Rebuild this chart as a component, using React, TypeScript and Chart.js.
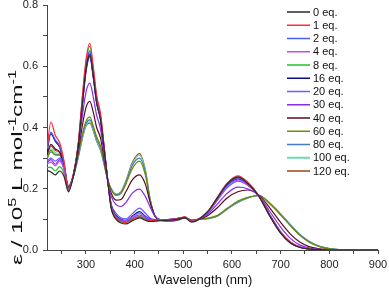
import React, { useEffect, useRef } from "react";
import { Chart, registerables } from "chart.js";

Chart.register(...registerables);

const wavelengths = [220, 228, 237, 246, 255, 264, 274, 284, 292, 300, 308, 315, 322, 330, 338, 345, 352, 362, 372, 382, 395, 410, 422, 432, 442, 455, 475, 490, 503, 517, 531, 550, 570, 590, 612, 632, 655, 678, 700, 720, 740, 760, 780, 800, 830, 870, 900];

const eq0 = [0.26, 0.255, 0.245, 0.258, 0.24, 0.19, 0.24, 0.335, 0.465, 0.59, 0.64, 0.57, 0.48, 0.425, 0.32, 0.222, 0.135, 0.1, 0.088, 0.085, 0.095, 0.105, 0.097, 0.093, 0.094, 0.096, 0.098, 0.101, 0.106, 0.091, 0.099, 0.125, 0.17, 0.215, 0.238, 0.218, 0.176, 0.11, 0.055, 0.023, 0.008, 0.003, 0.001, 0, 0, 0, 0];
const eq1 = [0.33, 0.418, 0.375, 0.35, 0.29, 0.195, 0.245, 0.345, 0.49, 0.62, 0.675, 0.6, 0.505, 0.445, 0.33, 0.225, 0.14, 0.105, 0.093, 0.09, 0.1, 0.108, 0.1, 0.096, 0.097, 0.098, 0.1, 0.103, 0.108, 0.093, 0.1, 0.125, 0.172, 0.218, 0.242, 0.222, 0.178, 0.112, 0.058, 0.025, 0.009, 0.003, 0.001, 0, 0, 0, 0];
const eq2 = [0.33, 0.385, 0.36, 0.34, 0.283, 0.2, 0.245, 0.34, 0.475, 0.6, 0.65, 0.58, 0.49, 0.432, 0.322, 0.224, 0.14, 0.108, 0.096, 0.093, 0.104, 0.115, 0.105, 0.098, 0.097, 0.098, 0.1, 0.103, 0.107, 0.093, 0.1, 0.124, 0.168, 0.212, 0.235, 0.216, 0.177, 0.11, 0.055, 0.023, 0.008, 0.003, 0.001, 0, 0, 0, 0];
const eq4 = [0.28, 0.287, 0.275, 0.29, 0.262, 0.198, 0.243, 0.338, 0.47, 0.595, 0.645, 0.575, 0.487, 0.43, 0.322, 0.224, 0.142, 0.11, 0.098, 0.096, 0.108, 0.12, 0.108, 0.099, 0.097, 0.098, 0.1, 0.103, 0.107, 0.093, 0.1, 0.122, 0.165, 0.207, 0.228, 0.212, 0.177, 0.112, 0.058, 0.025, 0.009, 0.003, 0.001, 0, 0, 0, 0];
const eq8 = [0.27, 0.27, 0.258, 0.272, 0.25, 0.195, 0.243, 0.34, 0.485, 0.61, 0.665, 0.59, 0.5, 0.44, 0.328, 0.225, 0.138, 0.104, 0.092, 0.089, 0.1, 0.11, 0.101, 0.097, 0.097, 0.098, 0.1, 0.103, 0.108, 0.093, 0.1, 0.125, 0.171, 0.217, 0.24, 0.22, 0.177, 0.111, 0.057, 0.024, 0.009, 0.003, 0.001, 0, 0, 0, 0];
const eq16 = [0.32, 0.38, 0.355, 0.335, 0.28, 0.2, 0.245, 0.338, 0.465, 0.585, 0.635, 0.567, 0.482, 0.428, 0.32, 0.224, 0.145, 0.113, 0.1, 0.097, 0.11, 0.125, 0.11, 0.1, 0.098, 0.098, 0.1, 0.103, 0.107, 0.093, 0.1, 0.123, 0.166, 0.21, 0.232, 0.215, 0.178, 0.112, 0.057, 0.024, 0.009, 0.003, 0.001, 0, 0, 0, 0];
const eq20 = [0.29, 0.3, 0.29, 0.3, 0.27, 0.2, 0.245, 0.338, 0.462, 0.58, 0.63, 0.563, 0.48, 0.426, 0.32, 0.224, 0.15, 0.12, 0.105, 0.102, 0.118, 0.137, 0.12, 0.104, 0.099, 0.098, 0.1, 0.103, 0.107, 0.093, 0.1, 0.121, 0.162, 0.203, 0.225, 0.212, 0.178, 0.115, 0.06, 0.026, 0.01, 0.004, 0.001, 0, 0, 0, 0];
const eq30 = [0.285, 0.295, 0.28, 0.295, 0.265, 0.2, 0.242, 0.33, 0.43, 0.515, 0.545, 0.5, 0.44, 0.395, 0.3, 0.225, 0.175, 0.148, 0.142, 0.155, 0.185, 0.199, 0.175, 0.14, 0.11, 0.098, 0.097, 0.1, 0.106, 0.095, 0.1, 0.117, 0.15, 0.185, 0.205, 0.2, 0.178, 0.125, 0.075, 0.038, 0.016, 0.006, 0.002, 0, 0, 0, 0];
const eq40 = [0.31, 0.345, 0.33, 0.32, 0.275, 0.205, 0.24, 0.32, 0.4, 0.465, 0.485, 0.45, 0.4, 0.365, 0.29, 0.226, 0.185, 0.163, 0.165, 0.19, 0.228, 0.245, 0.215, 0.155, 0.11, 0.097, 0.096, 0.1, 0.106, 0.096, 0.1, 0.112, 0.138, 0.17, 0.19, 0.196, 0.18, 0.137, 0.09, 0.052, 0.025, 0.01, 0.004, 0.001, 0, 0, 0];
const eq60 = [0.295, 0.325, 0.31, 0.31, 0.27, 0.207, 0.24, 0.31, 0.375, 0.42, 0.435, 0.405, 0.37, 0.34, 0.28, 0.227, 0.197, 0.178, 0.185, 0.215, 0.265, 0.29, 0.245, 0.16, 0.11, 0.097, 0.095, 0.099, 0.105, 0.097, 0.1, 0.104, 0.113, 0.136, 0.16, 0.172, 0.178, 0.15, 0.114, 0.079, 0.047, 0.024, 0.011, 0.004, 0.001, 0, 0];
const eq80 = [0.3, 0.32, 0.312, 0.31, 0.268, 0.205, 0.24, 0.305, 0.368, 0.412, 0.425, 0.398, 0.362, 0.333, 0.277, 0.227, 0.198, 0.18, 0.187, 0.22, 0.275, 0.3, 0.255, 0.163, 0.112, 0.098, 0.095, 0.098, 0.105, 0.098, 0.1, 0.103, 0.111, 0.134, 0.157, 0.17, 0.178, 0.152, 0.116, 0.081, 0.049, 0.026, 0.012, 0.005, 0.001, 0, 0];
const eq100 = [0.3, 0.33, 0.318, 0.312, 0.27, 0.208, 0.24, 0.302, 0.363, 0.407, 0.418, 0.392, 0.357, 0.328, 0.275, 0.228, 0.2, 0.181, 0.189, 0.223, 0.28, 0.31, 0.26, 0.165, 0.112, 0.098, 0.095, 0.098, 0.105, 0.098, 0.1, 0.102, 0.11, 0.133, 0.155, 0.169, 0.178, 0.153, 0.117, 0.082, 0.05, 0.027, 0.012, 0.005, 0.001, 0, 0];
const eq120 = [0.305, 0.34, 0.325, 0.318, 0.275, 0.21, 0.24, 0.3, 0.36, 0.405, 0.415, 0.39, 0.355, 0.325, 0.275, 0.228, 0.2, 0.182, 0.19, 0.225, 0.285, 0.315, 0.262, 0.165, 0.11, 0.097, 0.095, 0.098, 0.105, 0.098, 0.1, 0.102, 0.11, 0.133, 0.155, 0.17, 0.178, 0.153, 0.118, 0.083, 0.05, 0.027, 0.012, 0.005, 0.001, 0, 0];

const seriesLabels = ["0 eq.", "1 eq.", "2 eq.", "4 eq.", "8 eq.", "16 eq.", "20 eq.", "30 eq.", "40 eq.", "60 eq.", "80 eq.", "100 eq.", "120 eq."];
const seriesValues = [eq0, eq1, eq2, eq4, eq8, eq16, eq20, eq30, eq40, eq60, eq80, eq100, eq120];
const seriesColors = ["#2a2a2a", "#ff2a3c", "#4a62f0", "#c24cf0", "#22c02a", "#0a0a8a", "#6a5cff", "#8a2be8", "#5c0a1e", "#6e9000", "#4a78c8", "#66ddaa", "#a0421a"];

const xTicks = [250, 300, 350, 400, 450, 500, 550, 600, 650, 700, 750, 800, 850, 900];
const xLabels = [300, 400, 500, 600, 700, 800, 900];
const yTicks = [0, 0.1, 0.2, 0.3, 0.4, 0.5, 0.6, 0.7, 0.8];
const yLabels = [0, 0.2, 0.4, 0.6, 0.8];

const FONT = '"Liberation Sans", Arial, sans-serif';

const overlayPlugin = {
  id: "overlay",
  afterDraw(chart: any) {
    const ctx = chart.ctx as CanvasRenderingContext2D;
    const area = chart.chartArea;
    ctx.save();
    // legend
    ctx.font = `11px ${FONT}`;
    ctx.textBaseline = "middle";
    ctx.textAlign = "left";
    chart.data.datasets.forEach((ds: any, i: number) => {
      const y = 12 + i * 13.25;
      ctx.strokeStyle = ds.borderColor;
      ctx.lineWidth = i === 11 ? 2 : 1.5;
      ctx.beginPath();
      ctx.moveTo(287, y);
      ctx.lineTo(310, y);
      ctx.stroke();
      ctx.fillStyle = "#111";
      ctx.fillText(ds.label, 313, y + 0.5);
    });
    // x title
    ctx.font = `13px ${FONT}`;
    ctx.textAlign = "center";
    ctx.textBaseline = "alphabetic";
    ctx.fillStyle = "#111";
    ctx.fillText("Wavelength (nm)", 203, 284);
    // y title
    ctx.translate(22, 265);
    ctx.rotate(-Math.PI / 2);
    const main = 15;
    const sup = 10;
    const parts: [string, boolean][] = [
      ["ε / 10", false],
      ["5", true],
      [" L mol", false],
      ["-1", true],
      ["cm", false],
      ["-1", true],
    ];
    let total = 0;
    parts.forEach(([t, s]) => {
      ctx.font = `${s ? sup : main}px ${FONT}`;
      total += ctx.measureText(t).width;
    });
    const sc = 195 / total;
    ctx.scale(sc, 1);
    ctx.textAlign = "left";
    let x = 0;
    parts.forEach(([t, s]) => {
      ctx.font = `${s ? sup : main}px ${FONT}`;
      ctx.fillText(t, x, s ? -6 : 0);
      x += ctx.measureText(t).width;
    });
    ctx.restore();
  },
};

export default function App() {
  const ref = useRef<HTMLCanvasElement>(null);
  useEffect(() => {
    if (!ref.current) return;
    const chart = new Chart(ref.current, {
      type: "line",
      data: {
        datasets: seriesLabels.map((label, i) => ({
          label,
          data: wavelengths.map((w, j) => ({ x: w, y: seriesValues[i][j] })),
          borderColor: seriesColors[i],
          backgroundColor: seriesColors[i],
          borderWidth: 1.2,
          pointRadius: 0,
          tension: 0.4,
          cubicInterpolationMode: "monotone" as const,
          fill: false,
        })),
      },
      options: {
        animation: false,
        responsive: false,
        devicePixelRatio: 1,
        layout: { padding: { left: 0, right: 11, top: 5, bottom: 0 } },
        plugins: { legend: { display: false }, tooltip: { enabled: false } },
        scales: {
          x: {
            type: "linear",
            min: 220,
            max: 900,
            afterBuildTicks: (scale: any) => {
              scale.ticks = xTicks.map((v) => ({ value: v }));
            },
            afterFit: (scale: any) => {
              scale.height = 40;
              scale.paddingLeft = 0;
              scale.paddingRight = 0;
            },
            ticks: {
              autoSkip: false,
              maxRotation: 0,
              padding: 4,
              color: "#222",
              font: { family: FONT, size: 11 },
              callback: (v: any) => (xLabels.includes(Number(v)) ? String(v) : ""),
            },
            grid: { drawOnChartArea: false, drawTicks: true, tickLength: 4, color: "#444", lineWidth: 1 },
            border: { display: true, color: "#444", width: 1 },
          },
          y: {
            type: "linear",
            min: 0,
            max: 0.8,
            afterBuildTicks: (scale: any) => {
              scale.ticks = yTicks.map((v) => ({ value: v }));
            },
            afterFit: (scale: any) => {
              scale.width = 47;
              scale.paddingTop = 0;
              scale.paddingBottom = 0;
            },
            ticks: {
              autoSkip: false,
              padding: 5,
              color: "#222",
              font: { family: FONT, size: 11 },
              callback: (v: any) => {
                const n = Number(v);
                return yLabels.some((l) => Math.abs(l - n) < 1e-6) ? n.toFixed(1) : "";
              },
            },
            grid: { drawOnChartArea: false, drawTicks: true, tickLength: 4, color: "#444", lineWidth: 1 },
            border: { display: true, color: "#444", width: 1 },
          },
        },
      },
      plugins: [overlayPlugin],
    });
    return () => chart.destroy();
  }, []);
  return (
    <div style={{ position: "fixed", left: 0, top: 0, width: 389, height: 290, background: "#fff" }}>
      <canvas ref={ref} width={389} height={290} style={{ display: "block", width: 389, height: 290 }} />
    </div>
  );
}
